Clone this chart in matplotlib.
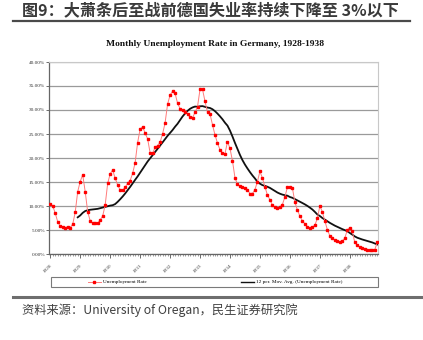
import numpy as np
import pandas as pd
import matplotlib
matplotlib.use("Agg")
import matplotlib.pyplot as plt
from matplotlib.patches import Rectangle
from matplotlib.lines import Line2D

plt.rcParams['font.family'] = ['Noto Sans CJK SC', 'DejaVu Sans']

years = ["1928", "1929", "1930", "1931", "1932", "1933",
         "1934", "1935", "1936", "1937", "1938"]

# monthly unemployment rate (%), Jan 1928 - Dec 1938
rate = [
    10.4, 10.0, 8.5, 6.7, 5.8, 5.7, 5.5, 5.7, 5.5, 6.2, 8.7, 13.0,        # 1928
    15.1, 16.5, 13.0, 8.8, 6.9, 6.4, 6.4, 6.4, 7.1, 7.9, 10.2, 14.7,      # 1929
    16.7, 17.5, 15.8, 14.4, 13.3, 13.3, 13.9, 14.7, 15.3, 16.8, 19.0, 23.2,  # 1930
    26.0, 26.5, 25.2, 24.0, 21.1, 21.0, 22.2, 22.6, 23.3, 25.0, 27.3, 31.2,  # 1931
    33.1, 33.9, 33.5, 31.4, 30.3, 30.0, 29.6, 29.2, 28.5, 28.4, 29.5, 30.7,  # 1932
    34.3, 34.3, 31.8, 29.5, 29.2, 26.9, 24.8, 23.1, 21.7, 21.0, 20.9, 23.4,  # 1933
    22.0, 19.4, 15.9, 14.5, 14.1, 13.9, 13.7, 13.4, 12.6, 12.6, 13.4, 15.1,  # 1934
    17.2, 15.8, 14.0, 12.3, 11.3, 10.2, 9.7, 9.5, 9.7, 10.3, 11.9, 13.9,     # 1935
    13.9, 13.8, 10.8, 9.2, 7.9, 6.9, 6.3, 5.7, 5.4, 5.6, 6.0, 7.4,           # 1936
    10.0, 8.8, 6.9, 5.1, 3.8, 3.3, 2.9, 2.7, 2.6, 2.7, 3.3, 5.0,             # 1937
    5.5, 4.7, 2.4, 1.8, 1.5, 1.2, 1.0, 0.9, 0.8, 0.8, 0.9, 2.4,              # 1938
]

months = np.arange(len(rate))
# Excel-style "12 per. Mov. Avg." trendline
mov_avg = pd.Series(rate).rolling(12).mean()

W, H = 423, 340
fig = plt.figure(figsize=(W / 100, H / 100), dpi=100)
fig.patch.set_facecolor("white")

# header and footer of the report page
fig.text(22 / W, 1 - 10 / H, "图9：大萧条后至战前德国失业率持续下降至 3%以下",
         fontsize=11.6, fontweight="bold", color="#3a3a3a", va="center", ha="left")
fig.add_artist(Line2D([13 / W, 410 / W], [1 - 21 / H, 1 - 21 / H],
                      color="#4a4a4a", lw=1.6))
fig.add_artist(Line2D([13 / W, 421 / W], [1 - 297 / H, 1 - 297 / H],
                      color="#6e6e6e", lw=2.2))
fig.text(22 / W, 1 - 310 / H, "资料来源：University of Oregan，民生证券研究院",
         fontsize=8.8, color="#404040", va="center", ha="left")

fig.text(215 / W, 1 - 44 / H, "Monthly Unemployment Rate in Germany, 1928-1938",
         fontsize=6.8, fontweight="bold", family="Liberation Serif",
         color="#111111", ha="center", va="center")

ax = fig.add_axes([49 / W, 1 - 254 / H, 329 / W, 192 / H])
ax.plot(months, mov_avg, color="#111111", lw=1.3, zorder=3)
ax.plot(months, rate, color="#ff7b7b", lw=0.7, marker="s", markersize=1.9,
        markerfacecolor="#ff0000", markeredgecolor="#ff0000", zorder=4)

ax.set_xlim(-0.5, 131.3)
ax.set_ylim(0, 40)
ax.set_yticks(np.arange(0, 41, 5))
ax.set_yticklabels([f"{v:.2f}%" for v in np.arange(0, 41, 5)],
                   family="Liberation Serif", fontsize=3.8, color="#333333")
ax.set_xticks(np.arange(0, len(rate), 12))
ax.set_xticklabels(years, rotation=45, ha="right", rotation_mode="anchor",
                   family="Liberation Serif", fontsize=3.8, color="#444444")
ax.set_xticks(months, minor=True)
ax.tick_params(axis="x", which="major", length=3, width=0.6, color="#555555", pad=4)
ax.tick_params(axis="x", which="minor", length=1.5, width=0.4, color="#555555")
ax.tick_params(axis="y", length=2, width=0.6, color="#555555", pad=1)

ax.grid(axis="y", color="#9a9a9a", lw=0.9)
ax.set_axisbelow(True)
for s in ["top", "right"]:
    ax.spines[s].set_color("#c8c8c8")
    ax.spines[s].set_linewidth(0.8)
for s in ["left", "bottom"]:
    ax.spines[s].set_color("#666666")
    ax.spines[s].set_linewidth(0.9)

# legend box below the plot
ax.add_patch(Rectangle((2 / 329, -33 / 192), 327 / 329, 10 / 192,
                       transform=ax.transAxes, fill=False, ec="#7a7a7a",
                       lw=0.8, clip_on=False))
handles = [
    Line2D([], [], color="#ff7b7b", lw=0.7, marker="s", markersize=1.6,
           markerfacecolor="#ff0000", markeredgecolor="#ff0000"),
    Line2D([], [], color="#111111", lw=1.0),
]
ax.legend(handles, ["Unemployment Rate", "12 per. Mov. Avg. (Unemployment Rate)"],
          loc="center", bbox_to_anchor=(0.505, -28 / 192), ncol=2, frameon=False,
          prop={"family": "Liberation Serif", "size": 3.8},
          handlelength=2.5, handletextpad=0.3, columnspacing=18)

fig.savefig("out.png", dpi=100)
